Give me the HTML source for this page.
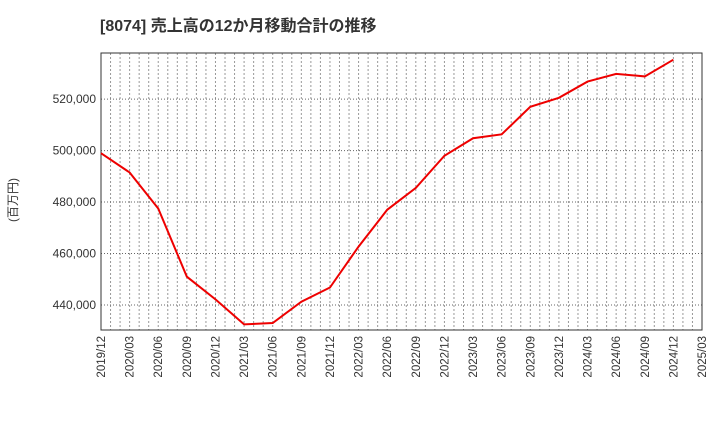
<!DOCTYPE html>
<html><head><meta charset="utf-8"><style>
body{margin:0;background:#fff;}
svg text{font-family:"Liberation Sans","Noto Sans CJK JP",sans-serif;}
</style></head><body>
<svg id="chart" width="720" height="440" xmlns="http://www.w3.org/2000/svg">
<text x="100" y="31" font-size="16" font-weight="bold" fill="#333">[8074]  売上高の12か月移動合計の推移</text>
<text transform="translate(17,200) rotate(-90)" font-size="12" fill="#333" text-anchor="middle">(百万円)</text>
<g id="grid"></g><g id="axes"></g><g id="series"></g>
</svg>
<script>
const categories=["2019/12","2020/03","2020/06","2020/09","2020/12","2021/03","2021/06","2021/09","2021/12","2022/03","2022/06","2022/09","2022/12","2023/03","2023/06","2023/09","2023/12","2024/03","2024/06","2024/09","2024/12","2025/03"];
const values=[499000,491500,477500,451000,442200,432500,433000,441300,446800,462700,477000,485500,498000,504800,506300,517000,520500,526800,529800,528800,535300];
const yTicks=[440000,460000,480000,500000,520000];
const yTickLabels=["440,000","460,000","480,000","500,000","520,000"];
const L=101,R=702,T=53,B=330,yMin=430300,yMax=537900;
const ns="http://www.w3.org/2000/svg";
const x=i=>L+i*(R-L)/(categories.length-1);
const y=v=>B-(v-yMin)/(yMax-yMin)*(B-T);
function mk(t,a,p){const e=document.createElementNS(ns,t);for(const k in a)e.setAttribute(k,a[k]);p.appendChild(e);return e;}
const grid=document.getElementById('grid'),axes=document.getElementById('axes'),series=document.getElementById('series');
const months=(categories.length-1)*3;
for(let m=1;m<months;m++){
 const g=mk('line',{x1:x(m/3),x2:x(m/3),y1:T,y2:B,stroke:'#999','stroke-dasharray':'2,2','stroke-width':1},grid);
 
 
}
categories.forEach((c,i)=>{
 const t=mk('text',{transform:`translate(${x(i)+4},${B+6}) rotate(-90)`,'font-size':11.5,fill:'#333','text-anchor':'end'},axes);
 t.textContent=c;
 
 
});
yTicks.forEach((v,i)=>{
 const g=mk('line',{x1:L,x2:R,y1:y(v),y2:y(v),stroke:'#666','stroke-dasharray':'1,2','stroke-width':1},grid);
 
 
 const t=mk('text',{x:L-5,y:y(v)+4,'font-size':12,fill:'#333','text-anchor':'end'},axes);
 t.textContent=yTickLabels[i];
 
 
});
const fr=mk('rect',{x:L,y:T,width:R-L,height:B-T,fill:'none',stroke:'#333','stroke-width':1},axes);


const pl=mk('polyline',{points:values.map((v,i)=>x(i)+','+y(v)).join(' '),fill:'none',stroke:'#e00','stroke-width':2},series);


</script>
</body></html>
